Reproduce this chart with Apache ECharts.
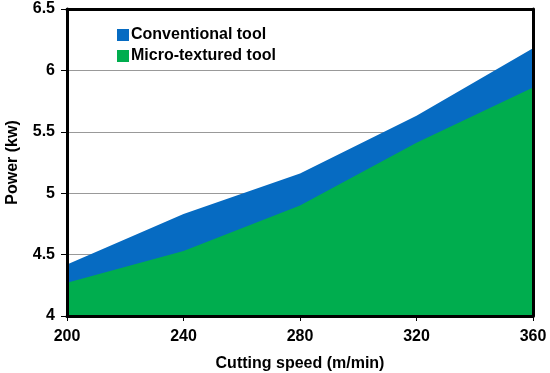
<!DOCTYPE html>
<html><head><meta charset="utf-8">
<script src="https://cdn.jsdelivr.net/npm/echarts@6/dist/echarts.min.js"></script>
<style>html,body{margin:0;padding:0;background:#fff}#c{width:550px;height:373px}</style>
</head><body><div id="c"></div>
<script>
const speeds = [200, 240, 280, 320, 360];
const conventional = [4.42, 4.83, 5.16, 5.63, 6.18];
const microTextured = [4.27, 4.53, 4.90, 5.41, 5.86];
const seriesNames = ['Conventional tool', 'Micro-textured tool'];
const FONT = 'Liberation Sans, Arial, sans-serif';
const chart = echarts.init(document.getElementById('c'));
const lineOnly = {axisTick: {show: false}, axisLabel: {show: false}, splitLine: {show: false}, z: 10,
  axisLine: {show: true, lineStyle: {color: '#000', width: 3}}};
chart.setOption({
  animation: false,
  grid: {left: 67, right: 17, top: 9, bottom: 57, outerBoundsMode: 'none', containLabel: false, show: false},
  legend: {
    left: 112, top: 22, orient: 'vertical', itemGap: 5, itemWidth: 12, itemHeight: 12,
    icon: 'rect', textStyle: {fontFamily: FONT, fontWeight: 'bold', fontSize: 16, color: '#000', padding: [0,0,0,-3]},
    data: seriesNames
  },
  xAxis: [{
    type: 'value', min: 200, max: 360, interval: 40,
    name: 'Cutting speed (m/min)', nameLocation: 'middle', nameGap: 40,
    nameTextStyle: {fontFamily: FONT, fontWeight: 'bold', fontSize: 16, color: '#000'},
    axisLine: {lineStyle: {color: '#000', width: 3}},
    axisTick: {show: true, length: 5, lineStyle: {color: '#000'}},
    axisLabel: {fontFamily: FONT, fontWeight: 'bold', fontSize: 16, color: '#000', margin: 13},
    splitLine: {show: false}, z: 10
  }, Object.assign({type: 'value', position: 'top', min: 200, max: 360, interval: 40}, lineOnly)],
  yAxis: [{
    type: 'value', min: 4, max: 6.5, interval: 0.5,
    name: 'Power (kw)', nameLocation: 'middle', nameGap: 46,
    nameTextStyle: {fontFamily: FONT, fontWeight: 'bold', fontSize: 16, color: '#000'},
    axisLine: {show: false},
    axisTick: {show: true, length: 6, lineStyle: {color: '#000'}},
    axisLabel: {fontFamily: FONT, fontWeight: 'bold', fontSize: 16, color: '#000', margin: 12,
      formatter: v => String(v)},
    splitLine: {show: true, lineStyle: {color: '#999', width: 1}}, z: 0
  },
  Object.assign({type: 'value', position: 'right', min: 4, max: 6.5, interval: 0.5}, lineOnly),
  Object.assign({type: 'value', position: 'left', min: 4, max: 6.5, interval: 0.5}, lineOnly)],
  series: [
    {name: seriesNames[0], type: 'line', xAxisIndex: 0, yAxisIndex: 0, data: speeds.map((s,i)=>[s, conventional[i]]),
     symbol: 'none', lineStyle: {width: 0}, itemStyle: {color: '#066BC2'},
     areaStyle: {color: '#066BC2', opacity: 1, origin: 'start'}, z: 4},
    {name: seriesNames[1], type: 'line', xAxisIndex: 0, yAxisIndex: 0, data: speeds.map((s,i)=>[s, microTextured[i]]),
     symbol: 'none', lineStyle: {width: 0}, itemStyle: {color: '#00AD4E'},
     areaStyle: {color: '#00AD4E', opacity: 1, origin: 'start'}, z: 5}
  ]
});
</script></body></html>
